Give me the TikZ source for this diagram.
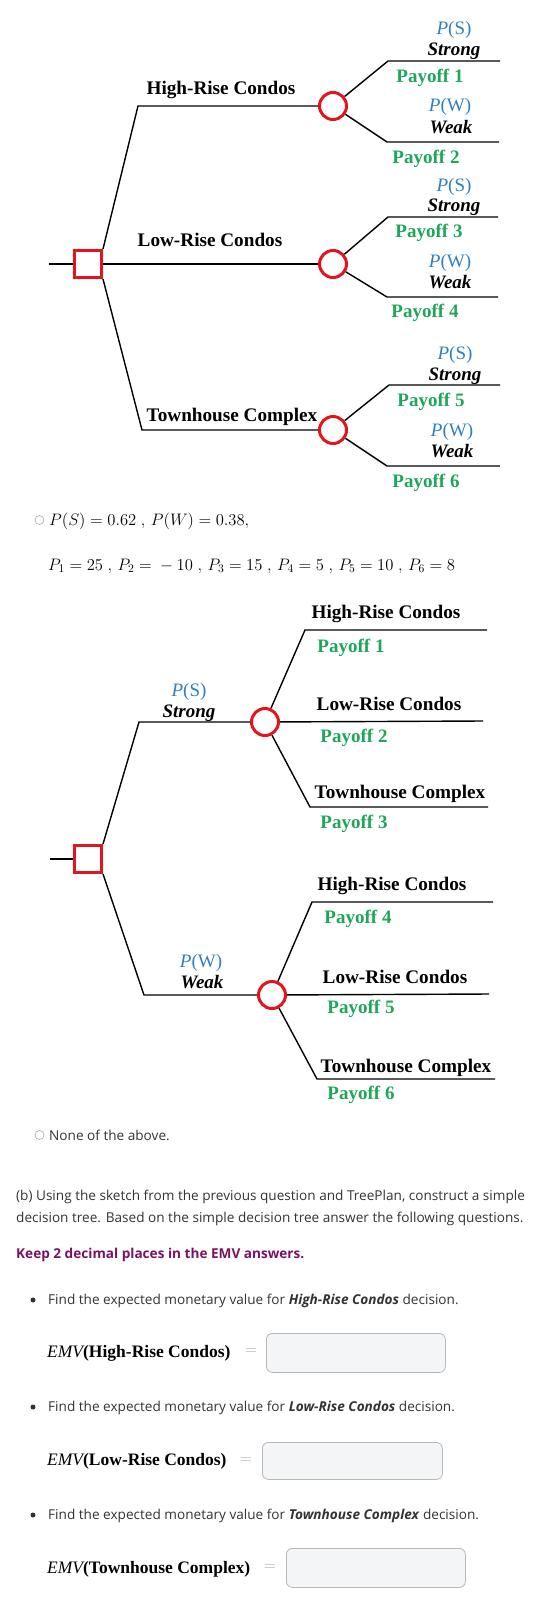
\RequirePackage{fix-cm}
\documentclass[tikz,border=0pt]{standalone}
\usepackage[no-math]{fontspec}
\setmainfont{Liberation Serif}
\newfontfamily\webfont{Open Sans}
\usepackage{tikz}
\usetikzlibrary{arrows,positioning,shapes,calc}
\definecolor{czerw}{HTML}{E3141B}
\definecolor{nieb}{HTML}{2F7FC1}
\definecolor{ziel}{HTML}{1EA65A}
\definecolor{fiolet}{HTML}{7A1263}
\definecolor{ramka}{HTML}{B4B8BD}
\definecolor{pole}{HTML}{F4F5F6}
\definecolor{szary}{HTML}{333333}

\begin{document}
\begin{tikzpicture}[x=1pt,y=-1pt]
\tikzset{
    %linie drzewa
    galaz/.style={line width=1.4pt, draw=black},
    %wezel decyzyjny
    kwadrat/.style={
           rectangle,
           line width=3pt,draw=czerw,fill=white,
           minimum size=27pt,
           inner sep=0pt},
    %wezel losowy
    kolko/.style={
           circle,
           line width=3pt,draw=czerw,fill=white,
           minimum size=27pt,
           inner sep=0pt},
    %napisy
    opcja/.style={font=\fontsize{19.2}{21}\selectfont\bfseries, anchor=base, inner sep=0pt},
    prawd/.style={font=\fontsize{19}{21}\selectfont, text=nieb, anchor=base, inner sep=0pt},
    stan/.style={font=\fontsize{19}{21}\selectfont\bfseries\itshape, anchor=base, inner sep=0pt},
    wyplata/.style={font=\fontsize{19}{21}\selectfont\bfseries, text=ziel, anchor=base, inner sep=0pt},
    wzor/.style={font=\fontsize{16.6}{19}\selectfont, anchor=base west, inner sep=0pt},
    tekst/.style={font=\webfont\fontsize{13.6}{16}\selectfont, text=szary, anchor=base west, inner sep=0pt},
    emv/.style={font=\fontsize{17.5}{20}\selectfont, anchor=base west, inner sep=0pt},
    rowna/.style={font=\fontsize{16}{18}\selectfont, text=gray!65, inner sep=0pt},
    okno/.style={
           rectangle, rounded corners=6pt,
           draw=ramka,fill=pole,line width=0.8pt,
           anchor=north west,
           inner sep=0pt},
    radio/.style={circle, draw=gray!70, line width=0.6pt, minimum size=9pt, inner sep=0pt},
    kropka/.style={circle, fill=szary, minimum size=5pt, inner sep=0pt}
}
\useasboundingbox (0,0) rectangle (541,1604);

%DRZEWO 1 - wezly
\node(d1)   [kwadrat] at (88,264)  {};
\node(k1)   [kolko]   at (333,106) {};
\node(k2)   [kolko]   at (333,264) {};
\node(k3)   [kolko]   at (333,430) {};
\coordinate(d1in) at (49,264);
\coordinate(g1) at (138,106);
\coordinate(g3) at (142,430);
\coordinate(k1a) at (388,61);  \coordinate(k1b) at (500,61);
\coordinate(k1c) at (387,142); \coordinate(k1d) at (499,142);
\coordinate(k2a) at (388,217); \coordinate(k2b) at (498,217);
\coordinate(k2c) at (387,297); \coordinate(k2d) at (498,297);
\coordinate(k3a) at (389,385); \coordinate(k3b) at (500,385);
\coordinate(k3c) at (387,466); \coordinate(k3d) at (500,466);

%DRZEWO 1 - linie
\draw[galaz] (d1in) -- (d1.west);
\draw[galaz] (d1.north east) -- (g1) -- (k1.west);
\draw[galaz] (d1.east) -- (k2.west);
\draw[galaz] (d1.south east) -- (g3) -- (k3.west);
\draw[galaz] (k1) -- (k1a) -- (k1b);
\draw[galaz] (k1) -- (k1c) -- (k1d);
\draw[galaz] (k2) -- (k2a) -- (k2b);
\draw[galaz] (k2) -- (k2c) -- (k2d);
\draw[galaz] (k3) -- (k3a) -- (k3b);
\draw[galaz] (k3) -- (k3c) -- (k3d);

%DRZEWO 1 - napisy
\node(hr)  [opcja] at (221,94)  {High-Rise Condos};
\node(lr)  [opcja] at (210,246) {Low-Rise Condos};
\node(tc)  [opcja] at (232,421) {Townhouse Complex};
\node(ps1) [prawd] at (454,34)  {\itshape P\upshape(S)};
\node(st1) [stan]  at (454,55)  {Strong};
\node(p1)  [wyplata] at (430,82) {Payoff 1};
\node(pw1) [prawd] at (450,111) {\itshape P\upshape(W)};
\node(wk1) [stan]  at (451,133) {Weak};
\node(p2)  [wyplata] at (426,163) {Payoff 2};
\node(ps2) [prawd] at (454,191) {\itshape P\upshape(S)};
\node(st2) [stan]  at (454,211) {Strong};
\node(p3)  [wyplata] at (429,237) {Payoff 3};
\node(pw2) [prawd] at (450,267) {\itshape P\upshape(W)};
\node(wk2) [stan]  at (450,288) {Weak};
\node(p4)  [wyplata] at (425,317) {Payoff 4};
\node(ps3) [prawd] at (455,359) {\itshape P\upshape(S)};
\node(st3) [stan]  at (455,380) {Strong};
\node(p5)  [wyplata] at (431,406) {Payoff 5};
\node(pw3) [prawd] at (452,436) {\itshape P\upshape(W)};
\node(wk3) [stan]  at (452,457) {Weak};
\node(p6)  [wyplata] at (426,487) {Payoff 6};

%odpowiedz z liczbami
\node(r1)  [radio] at (39.5,520) {};
\node(w1)  [wzor]  at (49,525) {$P(S) = 0.62\;,\, P(W) = 0.38,$};
\node(w2)  [wzor]  at (48,570) {$P_1 = 25\;,\, P_2 = {}-10\;,\, P_3 = 15\;,\, P_4 = 5\;,\, P_5 = 10\;,\, P_6 = 8$};

%DRZEWO 2 - wezly
\node(d2)   [kwadrat] at (88,859) {};
\node(k4)   [kolko]   at (265,722) {};
\node(k5)   [kolko]   at (272,995) {};
\coordinate(d2in) at (50,859);
\coordinate(g4) at (139,722);
\coordinate(g5) at (144,995);
\coordinate(k4a) at (305,630); \coordinate(k4b) at (487,630);
\coordinate(k4m) at (483,721);
\coordinate(k4c) at (310,807); \coordinate(k4d) at (488,807);
\coordinate(k5a) at (312,902); \coordinate(k5b) at (493,902);
\coordinate(k5m) at (489,994);
\coordinate(k5c) at (317,1079); \coordinate(k5d) at (495,1079);

%DRZEWO 2 - linie
\draw[galaz] (d2in) -- (d2.west);
\draw[galaz] (d2.north east) -- (g4) -- (k4.west);
\draw[galaz] (d2.south east) -- (g5) -- (k5.west);
\draw[galaz] (k4) -- (k4a) -- (k4b);
\draw[galaz] (k4) -- (k4m);
\draw[galaz] (k4) -- (k4c) -- (k4d);
\draw[galaz] (k5) -- (k5a) -- (k5b);
\draw[galaz] (k5) -- (k5m);
\draw[galaz] (k5) -- (k5c) -- (k5d);

%DRZEWO 2 - napisy
\node(ps4) [prawd] at (189,696) {\itshape P\upshape(S)};
\node(st4) [stan]  at (189,717) {Strong};
\node(hr2) [opcja] at (386,618) {High-Rise Condos};
\node(q1)  [wyplata] at (351,652) {Payoff 1};
\node(lr2) [opcja] at (389,710) {Low-Rise Condos};
\node(q2)  [wyplata] at (354,742) {Payoff 2};
\node(tc2) [opcja] at (400,798) {Townhouse Complex};
\node(q3)  [wyplata] at (354,828) {Payoff 3};
\node(pw4) [prawd] at (201,967) {\itshape P\upshape(W)};
\node(wk4) [stan]  at (202,988) {Weak};
\node(hr3) [opcja] at (392,890) {High-Rise Condos};
\node(q4)  [wyplata] at (358,923) {Payoff 4};
\node(lr3) [opcja] at (395,983) {Low-Rise Condos};
\node(q5)  [wyplata] at (361,1013) {Payoff 5};
\node(tc3) [opcja] at (406,1072) {Townhouse Complex};
\node(q6)  [wyplata] at (361,1099) {Payoff 6};

%reszta strony
\node(r2)  [radio] at (39.5,1135) {};
\node(nota)[tekst] at (49,1140) {None of the above.};
\node(b1)  [tekst] at (16,1200) {(b) Using the sketch from the previous question and TreePlan, construct a simple};
\node(b2)  [tekst] at (16,1222) {decision tree. Based on the simple decision tree answer the following questions.};
\node(keep)[tekst,text=fiolet,font=\webfont\fontsize{13.6}{16}\selectfont\bfseries] at (16,1258) {Keep 2 decimal places in the EMV answers.};

\node(kr1) [kropka] at (33,1300) {};
\node(f1)  [tekst] at (48,1304) {Find the expected monetary value for \textbf{\textit{High-Rise Condos}} decision.};
\node(e1)  [emv]   at (47,1357) {\itshape EMV\upshape\bfseries(High-Rise Condos)};
\node(eq1) [rowna] at (251,1352) {$=$};
\node(o1)  [okno,minimum width=179pt,minimum height=39pt] at (266,1333) {};

\node(kr2) [kropka] at (33,1407) {};
\node(f2)  [tekst] at (48,1411) {Find the expected monetary value for \textbf{\textit{Low-Rise Condos}} decision.};
\node(e2)  [emv]   at (47,1465) {\itshape EMV\upshape\bfseries(Low-Rise Condos)};
\node(eq2) [rowna] at (246,1461) {$=$};
\node(o2)  [okno,minimum width=180pt,minimum height=37pt] at (262,1442) {};

\node(kr3) [kropka] at (33,1515) {};
\node(f3)  [tekst] at (48,1519) {Find the expected monetary value for \textbf{\textit{Townhouse Complex}} decision.};
\node(e3)  [emv]   at (47,1573) {\itshape EMV\upshape\bfseries(Townhouse Complex)};
\node(eq3) [rowna] at (270,1568) {$=$};
\node(o3)  [okno,minimum width=179pt,minimum height=39pt] at (286,1548) {};
\end{tikzpicture}
\end{document}
